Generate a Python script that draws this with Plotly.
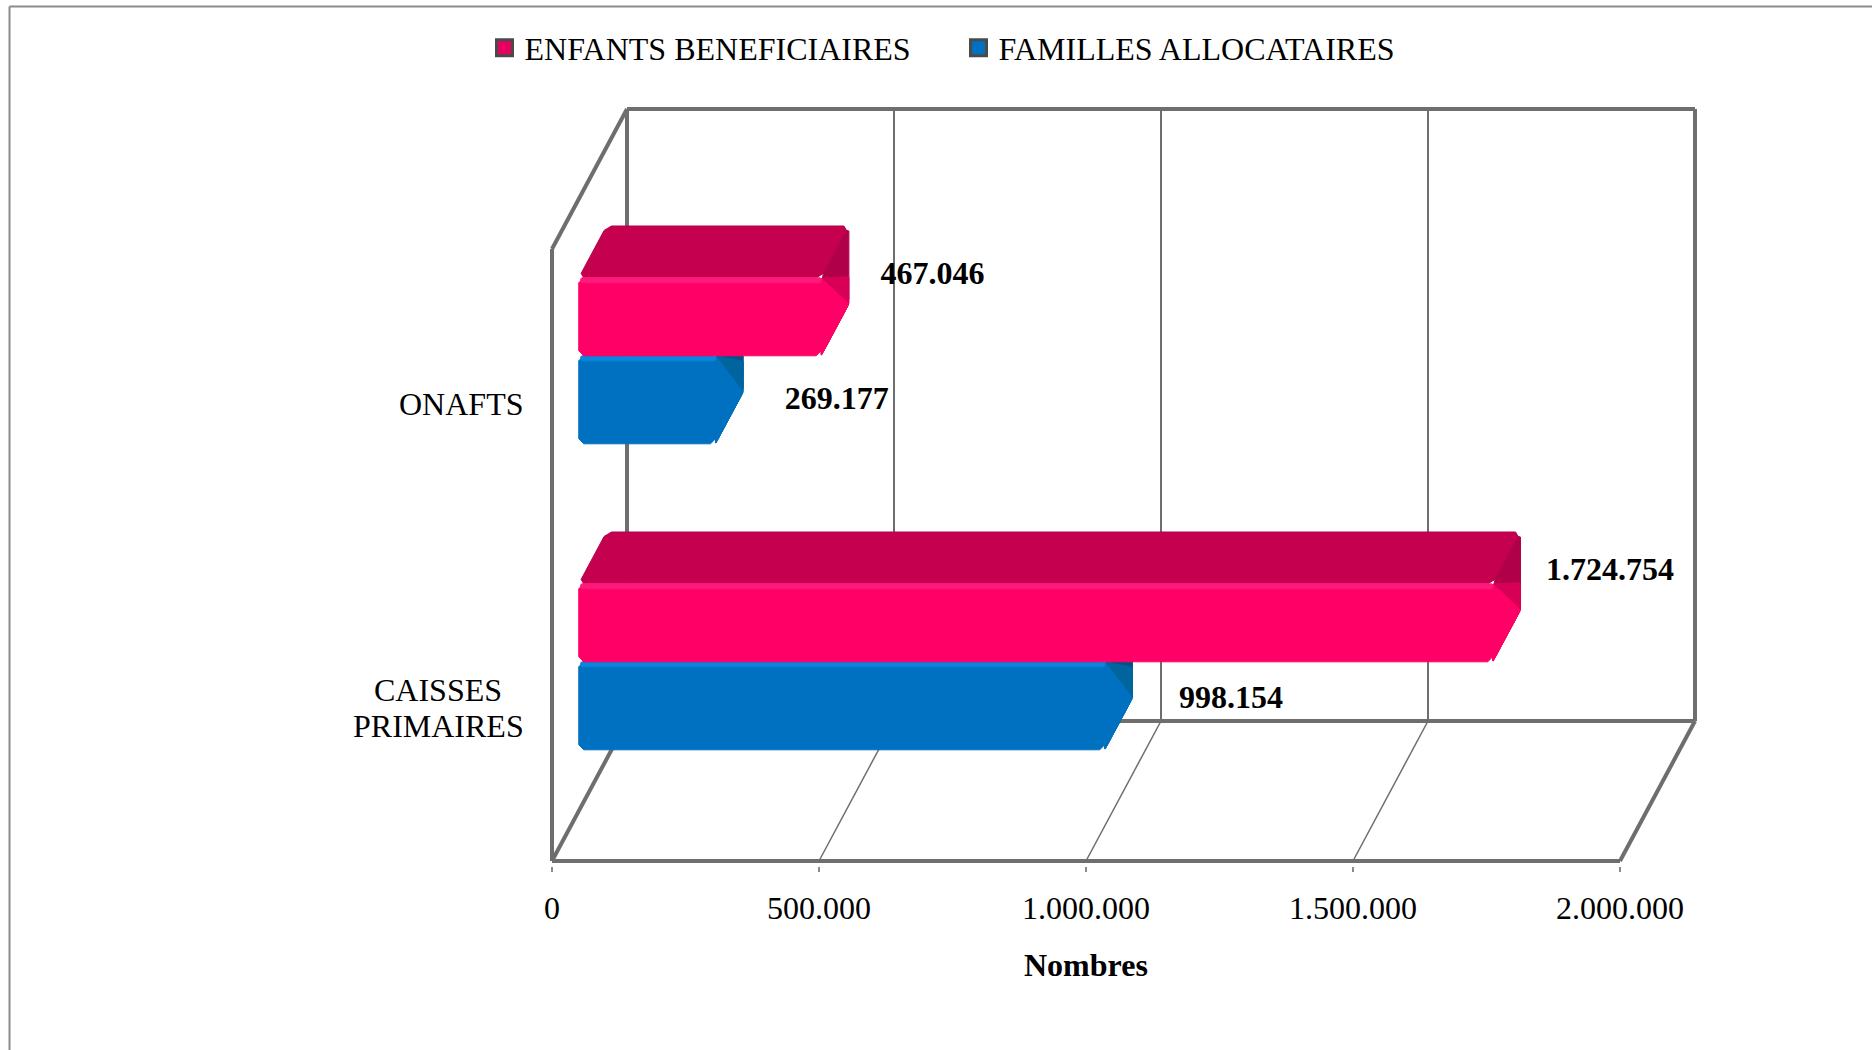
import plotly.graph_objects as go

categories = [["CAISSES", "PRIMAIRES"], ["ONAFTS"]]
enfants = [1724754, 467046]
familles = [998154, 269177]
x_ticks = [0, 500000, 1000000, 1500000, 2000000]
x_tick_labels = ["0", "500.000", "1.000.000", "1.500.000", "2.000.000"]
cat_levels = [0.25, 0.75]

# page geometry of the fake 3D box, in pixels
W, H = 1872, 1050
LEFT, RIGHT_FRONT = 552, 1620
BOTTOM, TOP_FRONT = 861, 249
DEPTH_X, DEPTH_Y = 75, 140
PAD = 5  # room round the box so its thick lines are not clipped
PX_PER_UNIT = (RIGHT_FRONT - LEFT) / 2000000
FRONT_H = BOTTOM - TOP_FRONT
RIGHT_BACK = RIGHT_FRONT + DEPTH_X
TOP_BACK = TOP_FRONT - DEPTH_Y
DX = DEPTH_X / PX_PER_UNIT
DY = DEPTH_Y / FRONT_H

D0 = 0.33
BAR_DEPTH = 0.37
BASE = 2 / PX_PER_UNIT
TRIM = 5 / PX_PER_UNIT
FRAME = "#6e6e6e"
SERIF = "Liberation Serif"


def project(v, level, d=0.0):
    return v + d * DX, level + d * DY


def rounded(pts, r=5):
    # cut the corners of a polygon, r in pixels
    out_x, out_y = [], []
    n = len(pts)
    for i in range(n):
        x, y = pts[i]
        for j, (qx, qy) in enumerate((pts[i - 1], pts[(i + 1) % n])):
            ax, ay = (qx - x) * PX_PER_UNIT, (qy - y) * FRONT_H
            dist = (ax * ax + ay * ay) ** 0.5 or 1
            k = min(r / dist, 0.5)
            out_x.append(x + (qx - x) * k)
            out_y.append(y + (qy - y) * k)
    out_x.append(out_x[0])
    out_y.append(out_y[0])
    return out_x, out_y


def poly(fig, pts, fill, line=None, r=5):
    xs, ys = rounded(pts, r)
    fig.add_trace(go.Scatter(
        x=xs, y=ys, mode="lines", fill="toself", fillcolor=fill,
        line=dict(color=line or fill, width=1),
        showlegend=False, hoverinfo="skip",
    ))


def seg(fig, p, q, width):
    fig.add_trace(go.Scatter(
        x=[p[0], q[0]], y=[p[1], q[1]], mode="lines",
        line=dict(color=FRAME, width=width),
        showlegend=False, hoverinfo="skip",
    ))


def bar(fig, v, low, high, front, top, side, mid, strip, edge):
    v = v - TRIM
    d1 = D0 + BAR_DEPTH
    poly(fig, [project(BASE, high, D0), project(BASE, high, d1),
               project(v, high, d1), project(v, high, D0)], top, edge)
    poly(fig, [project(v, low, D0), project(v, high, D0),
               project(v, high, d1), project(v, low, d1)], side, edge)
    # the end cap fades into the front colour towards its lower corner
    poly(fig, [project(v, low, D0), project(v, high, D0),
               project(v, low + 0.35 * (high - low), d1), project(v, low, d1)], mid, mid, r=1)
    poly(fig, [project(v, low, D0), project(v, high, D0), project(v, low, d1)], front, front, r=1)
    poly(fig, [project(BASE, low, D0), project(BASE, high, D0),
               project(v, high, D0), project(v, low, D0)], front, front)
    band = 5 / FRONT_H
    poly(fig, [project(BASE + 2 / PX_PER_UNIT, high - band, D0), project(BASE + 2 / PX_PER_UNIT, high, D0),
               project(v, high, D0), project(v, high - band, D0)], strip, strip, r=1)


fig = go.Figure()

# back wall and floor
for t in x_ticks[1:-1]:
    seg(fig, project(t, 0, 1), project(t, 1, 1), 2)
    seg(fig, project(t, 0, 0), project(t, 0, 1), 1.5)
seg(fig, project(0, 0, 1), project(0, 1, 1), 4)
seg(fig, project(0, 0, 0), project(0, 0, 1), 4)
seg(fig, project(0, 1, 0), project(0, 1, 1), 4)
seg(fig, project(0, 0, 0), project(0, 1, 0), 4)
seg(fig, project(0, 1, 1), project(2000000, 1, 1), 4)
seg(fig, project(0, 0, 1), project(2000000, 0, 1), 4)
seg(fig, project(2000000, 0, 1), project(2000000, 1, 1), 4)
seg(fig, project(0, 0, 0), project(2000000, 0, 0), 4)
seg(fig, project(2000000, 0, 0), project(2000000, 0, 1), 4)

# bars, blue first so the pink one sits on top of it
RED_H = 78 / FRONT_H
BLUE_H = 88 / FRONT_H
for level, e, f in zip(cat_levels, enfants, familles):
    bar(fig, f, level - BLUE_H, level, "#0070C0", "#00609F", "#005288", "#00649F", "#0A85DC", "#00568F")
    bar(fig, e, level, level + RED_H, "#FF0066", "#C4004F", "#B0004A", "#D80056", "#FF1A7C", "#B4004C")

# value labels
for values, dx_px, dy_px in ((enfants, (137, 131), (136, 126)), (familles, (146, 141), (8, 1))):
    fig.add_trace(go.Scatter(
        x=[v + d / PX_PER_UNIT for v, d in zip(values, dx_px)],
        y=[lv + d / FRONT_H for lv, d in zip(cat_levels, dy_px)],
        mode="text",
        text=["<b>" + f"{v:,}".replace(",", ".") + "</b>" for v in values],
        textposition="middle center",
        textfont=dict(family=SERIF, size=32, color="#000000"),
        showlegend=False, hoverinfo="skip", cliponaxis=False,
    ))

# legend entries only
for name, color in (("ENFANTS BENEFICIAIRES", "#E8005F"), ("FAMILLES ALLOCATAIRES", "#0070C0")):
    fig.add_trace(go.Scatter(
        x=[None], y=[None], mode="markers", name=name,
        marker=dict(symbol="square", size=19, color=color, line=dict(color="#4a4a4a", width=3)),
    ))


def page_x(p):
    return (p - (LEFT - PAD)) / (RIGHT_BACK - LEFT + 2 * PAD)


def page_y(p):
    return (BOTTOM + PAD - p) / (BOTTOM - TOP_BACK + 2 * PAD)


# outer border of the pasted chart
for x0, y0, x1, y1 in ((9.5, 6.5, W, 6.5), (9.5, 6.5, 9.5, H)):
    fig.add_shape(type="line", xref="paper", yref="paper",
                  x0=page_x(x0), y0=page_y(y0), x1=page_x(x1), y1=page_y(y1),
                  line=dict(color="#8c8c8c", width=2))

fig.add_annotation(text="<b>Nombres</b>", x=1000000, y=page_y(965), xref="x", yref="paper",
                   yanchor="middle", showarrow=False, font=dict(family=SERIF, size=32, color="#000000"))

# category labels: lines centred on each other, closer than a tick label would set them
LINE_PX = 36
LABEL_RIGHT = 523
LABEL_WIDTH = [170, 124]
LABEL_NUDGE = [0, 1.5]
for level, lines, width, nudge in zip(cat_levels, categories, LABEL_WIDTH, LABEL_NUDGE):
    for i, text in enumerate(lines):
        shift = (i - (len(lines) - 1) / 2) * LINE_PX + nudge
        fig.add_annotation(text=text, x=page_x(LABEL_RIGHT - width / 2), y=level - shift / FRONT_H,
                           xref="paper", yref="y", xanchor="center", yanchor="middle",
                           showarrow=False, font=dict(family=SERIF, size=32, color="#000000"))

fig.update_layout(
    width=W, height=H,
    autosize=False,
    margin=dict(l=LEFT - PAD, r=W - RIGHT_BACK - PAD, t=TOP_BACK - PAD, b=H - BOTTOM - PAD, pad=0, autoexpand=False),
    paper_bgcolor="#ffffff",
    plot_bgcolor="#ffffff",
    font=dict(family=SERIF, size=32, color="#000000"),
    legend=dict(
        orientation="h", xref="container", yref="container",
        x=484.5 / W, y=1 - 48 / H, xanchor="left", yanchor="middle",
        entrywidth=429, entrywidthmode="pixels",
        itemwidth=30,
        font=dict(family=SERIF, size=32, color="#000000"),
        bgcolor="rgba(0,0,0,0)",
    ),
    xaxis=dict(
        range=[-PAD / PX_PER_UNIT, DX + 2000000 + PAD / PX_PER_UNIT],
        tickmode="array", tickvals=x_ticks, ticktext=x_tick_labels,
        showgrid=False, zeroline=False, showline=False,
        ticks="outside", ticklen=5, tickwidth=2, tickcolor="#8c8c8c",
        ticklabelstandoff=9,
    ),
    yaxis=dict(
        range=[-PAD / FRONT_H, 1 + DY + PAD / FRONT_H], showticklabels=False,
        showgrid=False, zeroline=False, showline=False, ticks="",
    ),
)

fig.write_html("out.html", config=dict(displayModeBar=False), post_script="document.body.style.margin='0';")
